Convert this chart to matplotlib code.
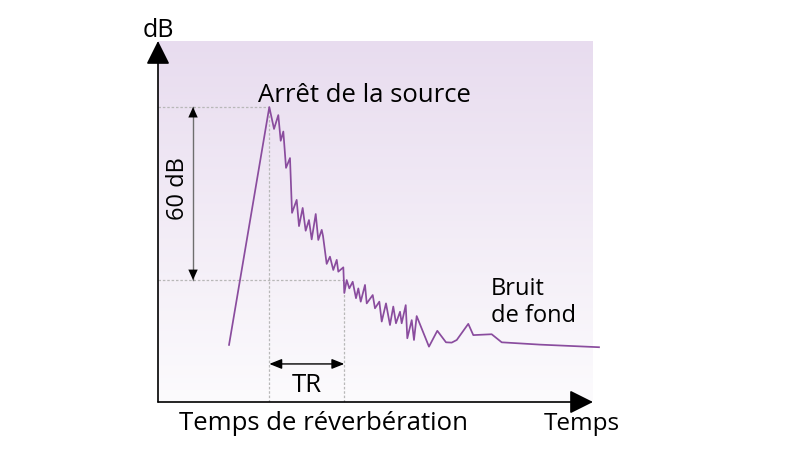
import numpy as np
import matplotlib.pyplot as plt
from matplotlib.colors import LinearSegmentedColormap

plt.rcParams["font.family"] = ["Open Sans", "DejaVu Sans"]

# decay curve (time in s, level in dB)
time_s = [0.947, 1.484, 1.547, 1.604, 1.636, 1.671, 1.707, 1.760, 1.787, 1.849,
          1.880, 1.929, 1.969, 2.013, 2.049, 2.103, 2.137, 2.183, 2.200, 2.249,
          2.293, 2.337, 2.383, 2.404, 2.471, 2.484, 2.516, 2.551, 2.596, 2.640,
          2.671, 2.703, 2.760, 2.783, 2.863, 2.893, 2.951, 2.983, 3.040, 3.093,
          3.137, 3.173, 3.227, 3.249, 3.303, 3.324, 3.383, 3.413, 3.449, 3.613,
          3.724, 3.840, 3.916, 3.983, 4.137, 4.204, 4.449, 4.583, 5.093, 5.880]
level_db = [19.8, 102.3, 94.7, 99.5, 90.6, 93.8, 81.2, 84.6, 65.6, 70.1,
            61.0, 67.3, 59.4, 63.1, 56.4, 65.2, 56.2, 59.7, 57.6, 47.9,
            50.4, 45.8, 49.3, 45.2, 46.7, 37.8, 42.3, 39.4, 41.7, 36.0,
            39.4, 34.8, 40.6, 34.2, 37.1, 32.5, 34.8, 27.9, 34.2, 26.7,
            33.1, 27.3, 31.3, 27.3, 33.6, 22.1, 28.4, 21.5, 29.8, 19.2,
            24.7, 20.7, 20.6, 21.5, 27.1, 23.2, 23.5, 20.7, 19.9, 19.0]

t_stop = 1.484      # source stops
peak_db = 102.3
decay_db = 60
tr_s = 1.0
arrow_60_t = 0.467
arrow_tr_db = 13.2

W, H = 801, 461
fig = plt.figure(figsize=(W / 100, H / 100), dpi=100)
ax = fig.add_axes([158 / W, (H - 402) / H, (593 - 158) / W, (402 - 41) / H])
xmax, ymax = 5.8, 125.2

# background gradient
cmap = LinearSegmentedColormap.from_list("bg", ["#fcfbfd", "#e8dcef"])
grad = np.linspace(0, 1, 256).reshape(-1, 1)
ax.imshow(grad, extent=[0, xmax, 0, ymax], origin="lower", aspect="auto",
          cmap=cmap, zorder=0)
ax.set_xlim(0, xmax)
ax.set_ylim(0, ymax)
ax.axis("off")

# guide lines
dot = dict(color="#b8b8b8", lw=0.9, ls=(0, (2, 1.5)), zorder=1)
ax.plot([0, t_stop], [peak_db, peak_db], **dot)
ax.plot([0, t_stop + tr_s], [peak_db - decay_db] * 2, **dot)
ax.plot([t_stop, t_stop], [0, peak_db], **dot)
ax.plot([t_stop + tr_s] * 2, [0, peak_db - decay_db], **dot)

# curve
ax.plot(time_s, level_db, color="#8a4c9e", lw=1.25, clip_on=False, zorder=3)

# main axes arrows
axis_arrow = dict(arrowstyle="-|>,head_length=1,head_width=0.5", mutation_scale=14.5,
                  lw=1.2, color="black", shrinkA=0, shrinkB=0)
ax.annotate("", xy=(0, 1), xytext=(0, 0), xycoords="axes fraction", arrowprops=axis_arrow)
ax.annotate("", xy=(1, 0), xytext=(0, 0), xycoords="axes fraction", arrowprops=axis_arrow)

# 60 dB arrow
ax.plot([arrow_60_t] * 2, [peak_db, peak_db - decay_db], color="#707070", lw=1.0, zorder=2)
small = dict(arrowstyle="<|-|>,head_length=1,head_width=0.45", mutation_scale=7.5,
             lw=0.01, color="black", shrinkA=0, shrinkB=0)
ax.annotate("", xy=(arrow_60_t, peak_db), xytext=(arrow_60_t, peak_db - decay_db), arrowprops=small)

# TR arrow
ax.annotate("", xy=(t_stop, arrow_tr_db), xytext=(t_stop + tr_s, arrow_tr_db),
            arrowprops=dict(arrowstyle="<|-|>,head_length=1,head_width=0.4", mutation_scale=7.5,
                            lw=1.0, color="black", shrinkA=0, shrinkB=0))

def label(x, y, s, size, **kw):
    fig.text(x / W, 1 - y / H, s, fontsize=size, color="black", **kw)

label(158, 37, "dB", 18, ha="center", va="baseline")
label(258, 101.7, "Arrêt de la source", 18.5, ha="left", va="baseline")
label(491, 295, "Bruit", 17, ha="left", va="baseline")
label(491, 322, "de fond", 17, ha="left", va="baseline")
label(178, 189, "60 dB", 17, ha="center", va="center", rotation=90)
label(307, 391.5, "TR", 18.5, ha="center", va="baseline")
label(179, 430, "Temps de réverbération", 18.5, ha="left", va="baseline")
label(544, 430, "Temps", 17.5, ha="left", va="baseline")

fig.savefig("out.png", dpi=100)
